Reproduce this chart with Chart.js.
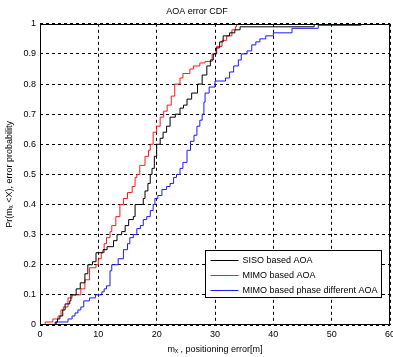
<!DOCTYPE html>
<html>
<head>
<meta charset="utf-8">
<script src="https://cdn.jsdelivr.net/npm/chart.js@4/dist/chart.umd.min.js"></script>
<style>
  html, body { margin: 0; padding: 0; background: #fff; }
  canvas { display: block; }
</style>
</head>
<body>
<canvas id="cdf" width="393" height="357"></canvas>
<script>
// series names
const seriesNames = ['SISO based AOA', 'MIMO based AOA', 'MIMO based phase different AOA'];

// SISO based AOA: error (m) where the CDF steps, and value after the step
const sisoX = [2.6, 3.0, 3.4, 3.9, 4.3, 5.1, 5.3, 6.2, 6.9, 7.7, 8.2, 9.0, 9.6, 10.8, 11.5, 12.6, 13.2, 14.0, 14.6, 15.2, 16.0, 16.3, 17.7, 18.0, 18.5, 18.9, 19.2, 19.6, 20.0, 20.6, 21.1, 21.7, 22.3, 23.2, 24.0, 24.6, 25.2, 26.0, 27.0, 27.8, 28.6, 29.2, 29.7, 30.2, 30.8, 31.4, 32.5, 33.4, 34.3, 47.0];
const sisoP = [0.01, 0.02, 0.03, 0.05, 0.07, 0.08, 0.10, 0.12, 0.14, 0.17, 0.20, 0.21, 0.24, 0.25, 0.26, 0.28, 0.30, 0.31, 0.33, 0.35, 0.36, 0.40, 0.42, 0.445, 0.47, 0.50, 0.52, 0.56, 0.60, 0.62, 0.64, 0.66, 0.69, 0.70, 0.72, 0.73, 0.75, 0.77, 0.80, 0.83, 0.86, 0.88, 0.90, 0.92, 0.94, 0.96, 0.97, 0.98, 0.99, 1.0];

// MIMO based AOA
const mimoX = [0.9, 2.2, 3.1, 3.6, 4.0, 4.8, 5.5, 7.0, 7.7, 8.5, 9.6, 10.0, 10.5, 11.0, 11.4, 12.0, 12.3, 13.0, 13.7, 14.3, 15.0, 15.8, 16.3, 16.6, 17.1, 18.0, 18.6, 18.9, 19.4, 20.0, 20.6, 21.2, 21.8, 22.5, 23.1, 24.0, 24.5, 25.7, 26.3, 27.4, 28.3, 29.5, 30.3, 31.2, 32.0, 32.9, 33.5, 33.7];
const mimoP = [0.01, 0.02, 0.03, 0.05, 0.06, 0.09, 0.10, 0.12, 0.15, 0.19, 0.20, 0.22, 0.24, 0.27, 0.29, 0.31, 0.33, 0.36, 0.40, 0.42, 0.44, 0.46, 0.49, 0.50, 0.53, 0.56, 0.58, 0.60, 0.64, 0.66, 0.69, 0.71, 0.73, 0.76, 0.80, 0.82, 0.835, 0.85, 0.86, 0.87, 0.875, 0.90, 0.925, 0.945, 0.96, 0.98, 0.99, 1.0];

// MIMO based phase different AOA
const phaseX = [2.8, 4.8, 5.5, 6.0, 6.5, 7.0, 7.5, 8.5, 9.5, 10.6, 11.0, 11.4, 12.0, 12.3, 13.4, 14.3, 15.0, 15.4, 16.0, 16.6, 17.2, 17.7, 18.3, 18.9, 19.4, 19.7, 20.2, 20.9, 21.7, 22.3, 22.9, 23.4, 24.0, 24.5, 25.2, 25.8, 26.4, 26.9, 27.4, 27.8, 28.1, 28.3, 29.0, 30.0, 31.8, 32.5, 33.2, 34.0, 34.5, 35.5, 36.3, 37.0, 37.7, 38.7, 40.0, 43.2, 47.7, 55.0];
const phaseP = [0.01, 0.02, 0.03, 0.04, 0.05, 0.06, 0.08, 0.09, 0.10, 0.11, 0.12, 0.13, 0.18, 0.20, 0.22, 0.25, 0.27, 0.29, 0.30, 0.32, 0.33, 0.35, 0.36, 0.38, 0.40, 0.42, 0.43, 0.45, 0.46, 0.47, 0.49, 0.50, 0.52, 0.54, 0.58, 0.61, 0.63, 0.66, 0.68, 0.70, 0.74, 0.77, 0.79, 0.81, 0.82, 0.84, 0.86, 0.88, 0.90, 0.91, 0.93, 0.94, 0.95, 0.96, 0.97, 0.985, 0.995, 1.0];

const seriesColors = ['#000000', '#ff1a1a', '#1a1aff'];

// cdf starts from zero at the first sample
function steps(xs, ps) {
  const pts = [{x: xs[0], y: 0}];
  xs.forEach((x, i) => pts.push({x: x, y: ps[i]}));
  return pts;
}

const FONT = 'Liberation Sans, Arial, sans-serif';

// box around the plot (matlab style)
const frame = {
  id: 'frame',
  afterDatasetsDraw(chart) {
    const a = chart.chartArea, c = chart.ctx;
    c.save();
    c.strokeStyle = '#000';
    c.lineWidth = 1;
    c.strokeRect(Math.round(a.left) + 0.5, Math.round(a.top) + 0.5,
      Math.round(a.right - a.left) - 1, Math.round(a.bottom - a.top) - 1);
    c.restore();
  }
};

// legend box inside the plot, bottom right
const boxLegend = {
  id: 'boxLegend',
  afterDraw(chart) {
    const a = chart.chartArea, c = chart.ctx;
    const w = 176, h = 47;
    const x0 = Math.round(a.right - w - 9) + 0.5;
    const y0 = Math.round(a.bottom - h - 28) + 0.5;
    c.save();
    c.fillStyle = '#fff';
    c.fillRect(x0, y0, w, h);
    c.strokeStyle = '#000';
    c.lineWidth = 1;
    c.strokeRect(x0, y0, w, h);
    c.font = '9px ' + FONT;
    c.textBaseline = 'middle';
    chart.data.datasets.forEach((ds, i) => {
      const y = Math.round(y0 + 9 + i * 15) + 0.5;
      c.strokeStyle = ds.borderColor;
      c.beginPath();
      c.moveTo(x0 + 5, y);
      c.lineTo(x0 + 33, y);
      c.stroke();
      c.fillStyle = '#000';
      c.fillText(ds.label, x0 + 37, y);
    });
    c.restore();
  }
};

const ctx = document.getElementById('cdf').getContext('2d');
const chart = new Chart(ctx, {
  type: 'line',
  data: {
    datasets: [
      {label: seriesNames[0], data: steps(sisoX, sisoP), borderColor: seriesColors[0]},
      {label: seriesNames[1], data: steps(mimoX, mimoP), borderColor: seriesColors[1]},
      {label: seriesNames[2], data: steps(phaseX, phaseP), borderColor: seriesColors[2]}
    ].map(d => Object.assign(d, {stepped: 'before', borderWidth: 1, pointRadius: 0, fill: false}))
  },
  options: {
    responsive: false,
    animation: false,
    devicePixelRatio: 1,
    layout: { padding: {left: 4, right: 3, top: 1, bottom: 2} },
    plugins: {
      legend: { display: false },
      tooltip: { enabled: false },
      title: {
        display: true,
        text: 'AOA error CDF',
        color: '#000',
        font: { family: FONT, size: 9, weight: 'normal' },
        padding: { top: 5, bottom: 7 }
      }
    },
    scales: {
      x: {
        type: 'linear',
        min: 0, max: 60,
        ticks: { stepSize: 10, color: '#000', padding: 4, font: { family: FONT, size: 9 } },
        grid: { color: '#000', lineWidth: 1, drawTicks: false },
        border: { display: false, dash: [3, 3] },
        title: {
          display: true,
          text: 'mₓ , positioning error[m]',
          color: '#000',
          font: { family: FONT, size: 9 },
          padding: { top: 2, bottom: 0 }
        },
        // the "60" label is allowed to run off the right edge, as in the original
        afterFit(scale) { scale.height = 30; scale.paddingRight = 0; }
      },
      y: {
        min: 0, max: 1,
        ticks: {
          stepSize: 0.1, color: '#000', padding: 4,
          font: { family: FONT, size: 9 },
          callback: v => +v.toFixed(1)
        },
        grid: { color: '#000', lineWidth: 1, drawTicks: false },
        border: { display: false, dash: [3, 3] },
        title: {
          display: true,
          text: 'Pr(mₓ <X), error probability',
          color: '#000',
          font: { family: FONT, size: 9 },
          padding: { top: 0, bottom: 2 }
        },
        afterFit(scale) { scale.width = 36; }
      }
    }
  },
  plugins: [frame, boxLegend]
});
</script>
</body>
</html>
